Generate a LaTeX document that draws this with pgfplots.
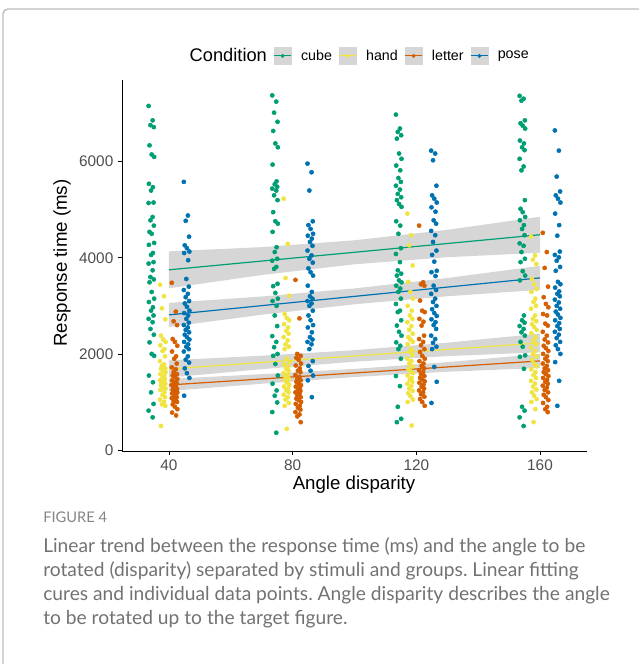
\documentclass[border=0pt]{standalone}
\usepackage{pgfplots}
\pgfplotsset{compat=1.18}
\usepackage{fontspec}
\setmainfont{Liberation Sans}
\newfontfamily\capfont{Lato}
\frenchspacing
\definecolor{cubeC}{HTML}{009E73}
\definecolor{handC}{HTML}{F0E442}
\definecolor{letterC}{HTML}{D55E00}
\definecolor{poseC}{HTML}{0072B2}
\definecolor{tickC}{HTML}{4D4D4D}
\definecolor{capC}{HTML}{727272}
\definecolor{figC}{HTML}{858585}
\definecolor{frameC}{HTML}{BDBDBD}
\definecolor{keyC}{HTML}{D6D6D6}
\pgfplotsset{
  pts/.style={only marks, mark=*, mark size=1.55pt, forget plot},
  band/.style={fill=black!40, fill opacity=0.4, draw=none, forget plot},
  fit/.style={line width=0.9pt, forget plot},
}
\begin{document}
\begin{tikzpicture}[x=0.75pt,y=0.75pt]
\path[use as bounding box] (0,0) rectangle (639,664);
\draw[frameC, line width=1.1pt] (3,-2) -- (3,650) arc[start angle=180,end angle=90,radius=5] -- (645,655);
\begin{axis}[
  at={(91.5pt,159.75pt)}, anchor=south west,
  scale only axis, width=348.75pt, height=278.25pt,
  xmin=24.8, xmax=175.2, ymin=-20, ymax=7700,
  axis lines=left, axis line style={-, black, line width=0.6pt},
  xtick={40,80,120,160}, ytick={0,2000,4000,6000},
  tick align=outside, major tick length=3pt,
  tick style={black, line width=0.6pt},
  ticklabel style={font=\fontsize{11.5}{12}\selectfont, text=tickC},
  /pgf/number format/assume math mode=true,
  /pgf/number format/1000 sep={},
  clip=false,
  legend columns=-1,
  legend style={draw=none, fill=none, at={(0.503,1.065)}, anchor=center,
    font=\fontsize{10.7}{12}\selectfont,
    /tikz/every even column/.append style={column sep=3pt},
    /tikz/every odd column/.append style={column sep=5pt}},
]
% ---------- cube ----------
\addplot[pts, cubeC] coordinates {
(33.4,7160)(34.7,6860)(34.0,6760)(35.1,6720)(33.7,6340)(34.4,6150)(35.2,6100)(33.5,5540)(34.8,5470)(34.2,5400)(35.0,5150)
(33.4,5140)(34.7,4850)(34.0,4780)(35.1,4670)(33.7,4540)(34.4,4500)(35.2,4310)(33.5,4270)(34.8,4100)(34.2,4060)(35.0,3910)
(33.4,3880)(34.7,3740)(34.0,3600)(35.1,3550)(33.7,3490)(34.4,3290)(35.2,3150)(33.5,3080)(34.8,2970)(34.2,2900)(35.0,2800)
(33.4,2730)(34.7,2660)(34.0,2520)(35.1,2400)(33.7,2240)(34.4,2000)(35.2,1960)(33.5,1550)(34.8,1410)(34.2,1200)(35.0,960)
(33.4,820)(34.7,680)
(73.4,7380)(74.7,7250)(74.0,7020)(75.1,6830)(73.7,6640)(74.4,6380)(75.2,6300)(73.5,5940)(74.8,5590)(74.2,5530)(75.0,5480)
(73.4,5440)(74.7,5400)(74.0,5300)(75.1,5200)(73.7,4950)(74.4,4760)(75.2,4710)(73.5,4540)(74.8,4220)(74.2,4120)(75.0,3980)
(73.4,3940)(74.7,3810)(74.0,3770)(75.1,3460)(73.7,3410)(74.4,3270)(75.2,3150)(73.5,3100)(74.8,3000)(74.2,2800)(75.0,2580)
(73.4,2370)(74.7,2250)(74.0,2140)(75.1,2000)(73.7,1960)(74.4,1790)(75.2,1550)(73.5,1380)(74.8,1240)(74.2,1130)(75.0,990)
(73.4,790)(74.7,360)
(113.4,6980)(114.7,6690)(114.0,6620)(115.1,6550)(113.7,6480)(114.4,6170)(115.2,6060)(113.5,5920)(114.8,5820)(114.2,5660)(115.0,5580)
(113.4,5500)(114.7,5420)(114.0,5330)(115.1,5260)(113.7,5200)(114.4,5120)(115.2,5060)(113.5,4760)(114.8,4670)(114.2,4500)(115.0,4200)
(113.4,4080)(114.7,3910)(114.0,3740)(115.1,3670)(113.7,3630)(114.4,3530)(115.2,3490)(113.5,3420)(114.8,3360)(114.2,3290)(115.0,3150)
(113.4,3040)(114.7,2900)(114.0,2870)(115.1,2700)(113.7,2590)(114.4,2460)(115.2,2380)(113.5,2240)(114.8,2170)(114.2,2100)(115.0,1900)
(113.4,1540)(114.7,1330)(114.0,900)(115.1,650)(113.7,580)
(153.4,7370)(154.7,7310)(154.0,7270)(155.1,6860)(153.7,6800)(154.4,6750)(155.2,6690)(153.5,6440)(154.8,6380)(154.2,6300)(155.0,6240)
(153.4,6060)(154.7,5900)(154.0,5820)(155.1,5200)(153.7,5020)(154.4,4950)(155.2,4850)(153.5,4780)(154.8,4680)(154.2,4600)(155.0,4470)
(153.4,4300)(154.7,4250)(154.0,4120)(155.1,3980)(153.7,3910)(154.4,3720)(155.2,3630)(153.5,3530)(154.8,2800)(154.2,2700)(155.0,2650)
(153.4,2580)(154.7,2520)(154.0,2450)(155.1,2380)(153.7,2250)(154.4,2150)(155.2,1970)(153.5,1940)(154.8,1690)(154.2,900)(155.0,820)
(153.4,680)(154.7,500)
};
% ---------- hand ----------
\addplot[pts, handC] coordinates {
(37.1,3440)(38.4,3200)(37.7,2950)(38.8,2720)(37.4,2380)(38.1,2300)(38.9,2250)(37.2,2180)(38.5,2100)(37.9,2060)(38.7,1950)
(37.1,1850)(38.4,1780)(37.7,1750)(38.8,1700)(37.4,1690)(38.1,1650)(38.9,1620)(37.2,1580)(38.5,1550)(37.9,1500)(38.7,1480)
(37.1,1450)(38.4,1420)(37.7,1400)(38.8,1380)(37.4,1350)(38.1,1300)(38.9,1280)(37.2,1250)(38.5,1200)(37.9,1150)(38.7,1100)
(37.1,1050)(38.4,1000)(37.7,950)(38.8,920)(37.4,500)
(77.1,5230)(78.4,4290)(77.7,3580)(78.8,3210)(77.4,2830)(78.1,2750)(78.9,2700)(77.2,2620)(78.5,2550)(77.9,2480)(78.7,2420)
(77.1,2350)(78.4,2280)(77.7,2200)(78.8,2150)(77.4,2100)(78.1,1900)(78.9,1830)(77.2,1780)(78.5,1730)(77.9,1690)(78.7,1650)
(77.1,1600)(78.4,1560)(77.7,1520)(78.8,1480)(77.4,1450)(78.1,1400)(78.9,1360)(77.2,1320)(78.5,1280)(77.9,1240)(78.7,1200)
(77.1,1150)(78.4,1100)(77.7,1050)(78.8,980)(77.4,920)(78.1,440)
(117.1,4920)(118.4,4470)(117.7,4260)(118.8,3840)(117.4,3500)(118.1,3290)(118.9,3150)(117.2,3000)(118.5,2900)(117.9,2800)(118.7,2730)
(117.1,2660)(118.4,2580)(117.7,2500)(118.8,2420)(117.4,2350)(118.1,2300)(118.9,2250)(117.2,2200)(118.5,2100)(117.9,2050)(118.7,1980)
(117.1,1900)(118.4,1850)(117.7,1800)(118.8,1740)(117.4,1690)(118.1,1640)(118.9,1600)(117.2,1550)(118.5,1500)(117.9,1460)(118.7,1420)
(117.1,1380)(118.4,1330)(117.7,1280)(118.8,1230)(117.4,1180)(118.1,1120)(118.9,1050)(117.2,1000)(118.5,510)
(157.1,4440)(158.4,4050)(157.7,3960)(158.8,3870)(157.4,3560)(158.1,3450)(158.9,3350)(157.2,3290)(158.5,3150)(157.9,3080)(158.7,3000)
(157.1,2940)(158.4,2800)(157.7,2730)(158.8,2680)(157.4,2620)(158.1,2560)(158.9,2500)(157.2,2430)(158.5,2350)(157.9,2280)(158.7,2200)
(157.1,2130)(158.4,2060)(157.7,2000)(158.8,1950)(157.4,1880)(158.1,1800)(158.9,1740)(157.2,1680)(158.5,1620)(157.9,1560)(158.7,1500)
(157.1,1440)(158.4,1380)(157.7,1320)(158.8,1260)(157.4,1200)(158.1,1130)(158.9,1060)(157.2,1000)(158.5,850)(157.9,580)
};
% ---------- letter ----------
\addplot[pts, letterC] coordinates {
(40.9,3480)(42.2,2880)(41.5,2680)(42.6,2600)(41.2,2310)(41.9,2250)(42.7,2170)(41.0,2050)(42.3,1950)(41.7,1900)(42.5,1800)
(40.9,1720)(42.2,1680)(41.5,1620)(42.6,1580)(41.2,1550)(41.9,1520)(42.7,1480)(41.0,1450)(42.3,1420)(41.7,1400)(42.5,1380)
(40.9,1350)(42.2,1320)(41.5,1300)(42.6,1270)(41.2,1250)(41.9,1220)(42.7,1200)(41.0,1180)(42.3,1150)(41.7,1120)(42.5,1100)
(40.9,1080)(42.2,1050)(41.5,1020)(42.6,1000)(41.2,950)(41.9,900)(42.7,850)(41.0,780)(42.3,720)
(80.9,3540)(82.2,2740)(81.5,2000)(82.6,1960)(81.2,1920)(81.9,1880)(82.7,1800)(81.0,1760)(82.3,1700)(81.7,1650)(82.5,1620)
(80.9,1560)(82.2,1520)(81.5,1480)(82.6,1450)(81.2,1420)(81.9,1380)(82.7,1350)(81.0,1320)(82.3,1290)(81.7,1260)(82.5,1230)
(80.9,1200)(82.2,1170)(81.5,1140)(82.6,1100)(81.2,1070)(81.9,1040)(82.7,1000)(81.0,960)(82.3,920)(81.7,880)(82.5,840)
(80.9,790)(82.2,740)(81.5,700)(82.6,580)
(120.9,4670)(122.2,3490)(121.5,3450)(122.6,3420)(121.2,3110)(121.9,2900)(122.7,2870)(121.0,2730)(122.3,2670)(121.7,2590)(122.5,2380)
(120.9,2310)(122.2,2250)(121.5,2180)(122.6,2100)(121.2,2040)(121.9,1960)(122.7,1900)(121.0,1850)(122.3,1800)(121.7,1750)(122.5,1700)
(120.9,1660)(122.2,1620)(121.5,1580)(122.6,1540)(121.2,1500)(121.9,1470)(122.7,1430)(121.0,1400)(122.3,1360)(121.7,1320)(122.5,1280)
(120.9,1240)(122.2,1200)(121.5,1160)(122.6,1110)(121.2,1060)(121.9,1000)(122.7,920)
(160.9,4520)(162.2,4120)(161.5,3790)(162.6,3400)(161.2,3180)(161.9,3040)(162.7,2970)(161.0,2830)(162.3,2800)(161.7,2630)(162.5,2590)
(160.9,2460)(162.2,2380)(161.5,2300)(162.6,2240)(161.2,2170)(161.9,2120)(162.7,2060)(161.0,2000)(162.3,1950)(161.7,1900)(162.5,1850)
(160.9,1800)(162.2,1750)(161.5,1700)(162.6,1660)(161.2,1620)(161.9,1580)(162.7,1540)(161.0,1500)(162.3,1460)(161.7,1420)(162.5,1380)
(160.9,1340)(162.2,1300)(161.5,1250)(162.6,1200)(161.2,1150)(161.9,1100)(162.7,1040)(161.0,980)(162.3,900)(161.7,850)(162.5,790)
};
% ---------- pose ----------
\addplot[pts, poseC] coordinates {
(44.8,5580)(46.1,4880)(45.4,4770)(46.5,4440)(45.1,4260)(45.8,4200)(46.6,4130)(44.9,4100)(46.2,3950)(45.6,3560)(46.4,3400)
(44.8,3330)(46.1,3250)(45.4,3180)(46.5,3100)(45.1,3050)(45.8,2980)(46.6,2900)(44.9,2850)(46.2,2800)(45.6,2730)(46.4,2650)
(44.8,2600)(46.1,2550)(45.4,2500)(46.5,2450)(45.1,2400)(45.8,2350)(46.6,2300)(44.9,2250)(46.2,2200)(45.6,2150)(46.4,2100)
(44.8,2050)(46.1,1950)(45.4,1880)(46.5,1820)(45.1,1700)(45.8,1600)(46.6,1500)(44.9,1130)
(84.8,5960)(86.1,5780)(85.4,5400)(86.5,4760)(85.1,4680)(85.8,4600)(86.6,4500)(84.9,4460)(86.2,4400)(85.6,4330)(86.4,4250)
(84.8,4150)(86.1,4050)(85.4,3980)(86.5,3900)(85.1,3780)(85.8,3700)(86.6,3630)(84.9,3420)(86.2,3290)(85.6,3200)(86.4,3150)
(84.8,3100)(86.1,3050)(85.4,3000)(86.5,2900)(85.1,2800)(85.8,2700)(86.6,2600)(84.9,2550)(86.2,2450)(85.6,2350)(86.4,2300)
(84.8,2250)(86.1,2200)(85.4,2100)(86.5,1850)(85.1,1750)(85.8,1650)(86.6,1550)(84.9,1450)(86.2,1100)
(124.8,6230)(126.1,6170)(125.4,6030)(126.5,5500)(125.1,5300)(125.8,5230)(126.6,5150)(124.9,5050)(126.2,4960)(125.6,4780)(126.4,4710)
(124.8,4560)(126.1,4470)(125.4,4330)(126.5,4150)(125.1,4060)(125.8,3920)(126.6,3730)(124.9,3700)(126.2,3620)(125.6,3420)(126.4,3330)
(124.8,3250)(126.1,3150)(125.4,3080)(126.5,3000)(125.1,2930)(125.8,2850)(126.6,2790)(124.9,2720)(126.2,2660)(125.6,2600)(126.4,2520)
(124.8,2380)(126.1,2310)(125.4,2230)(126.5,2150)(125.1,2100)(125.8,1730)(126.6,1420)(124.9,980)
(164.8,6650)(166.1,6230)(165.4,5690)(166.5,5380)(165.1,5300)(165.8,5230)(166.6,5150)(164.9,4920)(166.2,4680)(165.6,4460)(166.4,4130)
(164.8,4060)(166.1,4010)(165.4,3940)(166.5,3810)(165.1,3730)(165.8,3500)(166.6,3450)(164.9,3380)(166.2,3300)(165.6,3250)(166.4,3200)
(164.8,3130)(166.1,3070)(165.4,3000)(166.5,2940)(165.1,2880)(165.8,2820)(166.6,2750)(164.9,2700)(166.2,2640)(165.6,2580)(166.4,2520)
(164.8,2460)(166.1,2400)(165.4,2330)(166.5,2250)(165.1,2180)(165.8,2100)(166.6,2000)(164.9,1830)(166.2,1440)(165.6,920)
};
% ---------- fits with confidence bands ----------
\addplot[band] coordinates {(40,4135)(70,4222)(100,4365)(130,4582)(160,4855)(160,4105)(130,4012)(100,3865)(70,3642)(40,3365)};
\addplot[fit, cubeC] coordinates {(40,3750)(160,4480)};
\addplot[band] coordinates {(40,1867)(70,1963)(100,2078)(130,2234)(160,2424)(160,2034)(130,1954)(100,1838)(70,1683)(40,1507)};
\addplot[fit, handC] coordinates {(40,1687)(160,2229)};
\addplot[band] coordinates {(40,1479)(70,1579)(100,1689)(130,1829)(160,2000)(160,1708)(130,1629)(100,1519)(70,1379)(40,1229)};
\addplot[fit, letterC] coordinates {(40,1354)(160,1854)};
\addplot[band] coordinates {(40,3062)(70,3195)(100,3363)(130,3580)(160,3833)(160,3333)(130,3200)(100,3033)(70,2815)(40,2562)};
\addplot[fit, poseC] coordinates {(40,2812)(160,3583)};
% ---------- legend ----------
\addlegendimage{empty legend}
\addlegendentry{\fontsize{13.7}{15}\selectfont Condition}
\addlegendimage{legend image code/.code={\fill[keyC] (0pt,-6.4pt) rectangle (12.8pt,6.4pt); \draw[cubeC, line width=0.8pt] (0pt,0pt) -- (12.8pt,0pt); \fill[cubeC] (6.4pt,0pt) circle (1.3pt);}}
\addlegendentry{cube}
\addlegendimage{legend image code/.code={\fill[keyC] (0pt,-6.4pt) rectangle (12.8pt,6.4pt); \draw[handC, line width=0.8pt] (0pt,0pt) -- (12.8pt,0pt); \fill[handC] (6.4pt,0pt) circle (1.3pt);}}
\addlegendentry{hand}
\addlegendimage{legend image code/.code={\fill[keyC] (0pt,-6.4pt) rectangle (12.8pt,6.4pt); \draw[letterC, line width=0.8pt] (0pt,0pt) -- (12.8pt,0pt); \fill[letterC] (6.4pt,0pt) circle (1.3pt);}}
\addlegendentry{letter}
\addlegendimage{legend image code/.code={\fill[keyC] (0pt,-6.4pt) rectangle (12.8pt,6.4pt); \draw[poseC, line width=0.8pt] (0pt,0pt) -- (12.8pt,0pt); \fill[poseC] (6.4pt,0pt) circle (1.3pt);}}
\addlegendentry{pose}
\end{axis}
\node[rotate=90, font=\fontsize{14}{16}\selectfont] at (62,401) {Response time (ms)};
\node[font=\fontsize{14}{16}\selectfont] at (354,179) {Angle disparity};
\node[anchor=base west, inner sep=0pt, text=figC, font=\capfont\fontsize{11}{12}\selectfont] at (43,141) {FIGURE 4};
\node[anchor=base west, inner sep=0pt, text=capC, font=\capfont\fontsize{14.4}{16}\selectfont] at (43,111) {Linear trend between the response time (ms) and the angle to be};
\node[anchor=base west, inner sep=0pt, text=capC, font=\capfont\fontsize{14.4}{16}\selectfont] at (43,87) {rotated (disparity) separated by stimuli and groups. Linear fitting};
\node[anchor=base west, inner sep=0pt, text=capC, font=\capfont\fontsize{14.4}{16}\selectfont] at (43,63) {cures and individual data points. Angle disparity describes the angle};
\node[anchor=base west, inner sep=0pt, text=capC, font=\capfont\fontsize{14.4}{16}\selectfont] at (43,39) {to be rotated up to the target figure.};
\end{tikzpicture}
\end{document}
